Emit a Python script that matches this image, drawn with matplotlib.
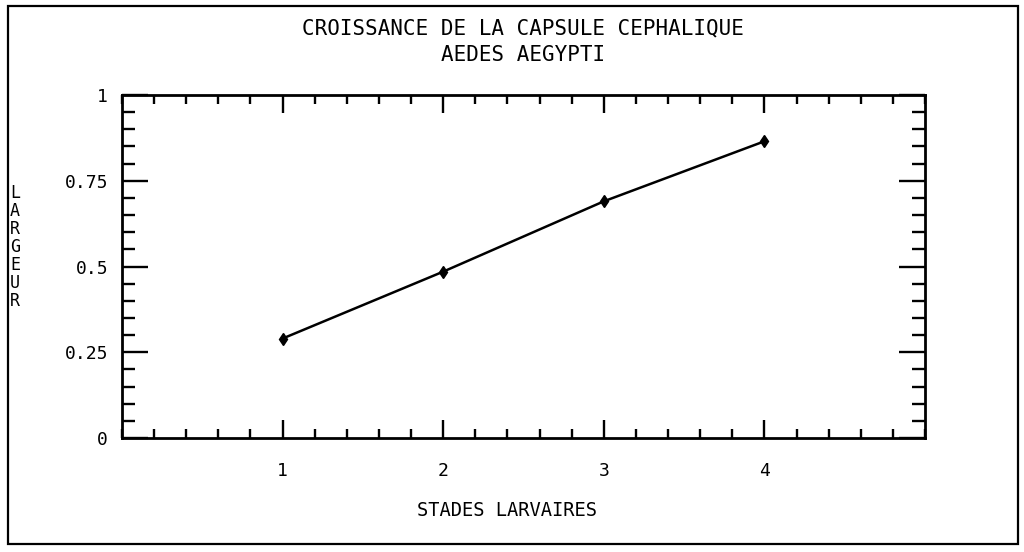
import matplotlib
matplotlib.use('Agg')
import matplotlib.pyplot as plt
from matplotlib.patches import Rectangle
from matplotlib.ticker import MultipleLocator

plt.rcParams['font.family'] = ['DejaVu Sans Mono']

# donnees
stades = [1, 2, 3, 4]
largeur = [0.29, 0.485, 0.69, 0.865]
xticks = [1, 2, 3, 4]
yticks = [0, 0.25, 0.5, 0.75, 1]
ytick_labels = ['0', '0.25', '0.5', '0.75', '1']

fig = plt.figure(figsize=(10.24, 5.52), dpi=100)
ax = fig.add_axes([122/1024, 1 - 438/552, 803/1024, 343/552])

ax.plot(stades, largeur, color='black', lw=1.8, marker='d', markersize=6,
        markerfacecolor='black', markeredgecolor='black')

ax.set_xlim(0, 5)
ax.set_ylim(0, 1)
ax.set_xticks(xticks)
ax.set_xticklabels([str(v) for v in xticks])
ax.set_yticks(yticks)
ax.set_yticklabels(ytick_labels)
ax.xaxis.set_minor_locator(MultipleLocator(0.2))
ax.yaxis.set_minor_locator(MultipleLocator(0.05))

ax.tick_params(axis='both', which='both', direction='in', top=True, right=True,
               width=1.7, color='black', labelsize=13)
ax.tick_params(axis='x', which='major', length=13, pad=17)
ax.tick_params(axis='x', which='minor', length=6.5)
ax.tick_params(axis='y', which='major', length=19, pad=10)
ax.tick_params(axis='y', which='minor', length=9.5)
for s in ax.spines.values():
    s.set_linewidth(2)

# titres et etiquettes
fig.text(523/1024, 1 - 28/552, 'CROISSANCE DE LA CAPSULE CEPHALIQUE',
         ha='center', va='center', fontsize=15)
fig.text(523/1024, 1 - 55/552, 'AEDES AEGYPTI',
         ha='center', va='center', fontsize=15)
fig.text(507/1024, 1 - 511/552, 'STADES LARVAIRES',
         ha='center', va='center', fontsize=13.5)
fig.text(15/1024, 1 - 247/552, '\n'.join('LARGEUR'),
         ha='center', va='center', fontsize=12, linespacing=1.0)

# cadre exterieur
fig.patches.append(Rectangle((8/1024, 1 - 544/552), 1010/1024, 538/552,
                             transform=fig.transFigure, fill=False,
                             edgecolor='black', lw=1.6))

fig.savefig('out.png', dpi=100)
